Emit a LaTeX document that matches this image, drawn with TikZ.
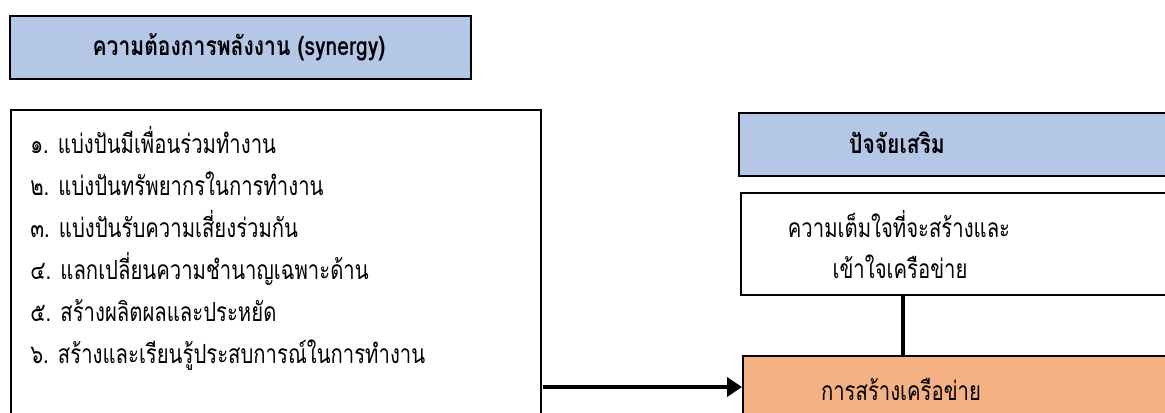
\documentclass[tikz,border=0pt]{standalone}
\usepackage{fontspec}
\newfontfamily\thai[Script=Thai, FakeStretch=0.77]{Loma}
\newfontfamily\thaihead[Script=Thai, FakeStretch=0.80]{Loma}
\usetikzlibrary{arrows.meta}
\tikzset{>=stealth}
\definecolor{headblue}{HTML}{B4C7E7}
\definecolor{netorange}{HTML}{F4B183}
\tikzset{
  box/.style={draw=black, line width=1pt, rectangle, inner sep=0pt, anchor=north west},
  head/.style={box, fill=headblue, line width=1.4pt},
  txt/.style={font=\thai\fontsize{15}{23}\selectfont, inner sep=0pt},
  bold/.style={font=\thaihead\bfseries\fontsize{15}{23}\selectfont, inner sep=0pt},
}

\begin{document}
\begin{tikzpicture}[x=0.02cm, y=-0.02cm]
\clip (0,0) rectangle (1165,412);

% left side: needs and list
\node[head, minimum width=9.22cm, minimum height=1.26cm] (need) at (9,15) {};
\node[bold, anchor=base] (needtxt) at (239,56) {ความต้องการพลังงาน (synergy)};
\node[box, minimum width=10.6cm, minimum height=7cm] (list) at (10,109) {};
\foreach \i/\t in {1/{๑. แบ่งปันมีเพื่อนร่วมทำงาน},
                   2/{๒. แบ่งปันทรัพยากรในการทำงาน},
                   3/{๓. แบ่งปันรับความเสี่ยงร่วมกัน},
                   4/{๔. แลกเปลี่ยนความชำนาญเฉพาะด้าน},
                   5/{๕. สร้างผลิตผลและประหยัด},
                   6/{๖. สร้างและเรียนรู้ประสบการณ์ในการทำงาน}}
  \node[txt, anchor=base west] (item\i) at (30,111+42*\i) {\t};

% right side: factor, will, network
\node[head, minimum width=10cm, minimum height=1.26cm] (factor) at (738,112) {};
\node[bold, anchor=base] (factortxt) at (897,153) {ปัจจัยเสริม};
\node[box, fill=white, minimum width=10cm, minimum height=2.04cm] (will) at (740,192) {};
\node[txt, anchor=base] (willtxt1) at (899,237) {ความเต็มใจที่จะสร้างและ};
\node[txt, anchor=base] (willtxt2) at (900,278) {เข้าใจเครือข่าย};
\node[box, fill=netorange, minimum width=10cm, minimum height=3cm] (build) at (742,355) {};
\node[txt, anchor=base] (buildtxt) at (901,400) {การสร้างเครือข่าย};

\coordinate (joint) at (903,294);
\draw[line width=2.3pt] (joint) -- (joint |- build.north);
\coordinate (start) at (543,387);
\draw[line width=2.8pt, -{Triangle[length=0.3cm, width=0.38cm]}] (start) -- (start -| build.west);
\end{tikzpicture}
\end{document}
